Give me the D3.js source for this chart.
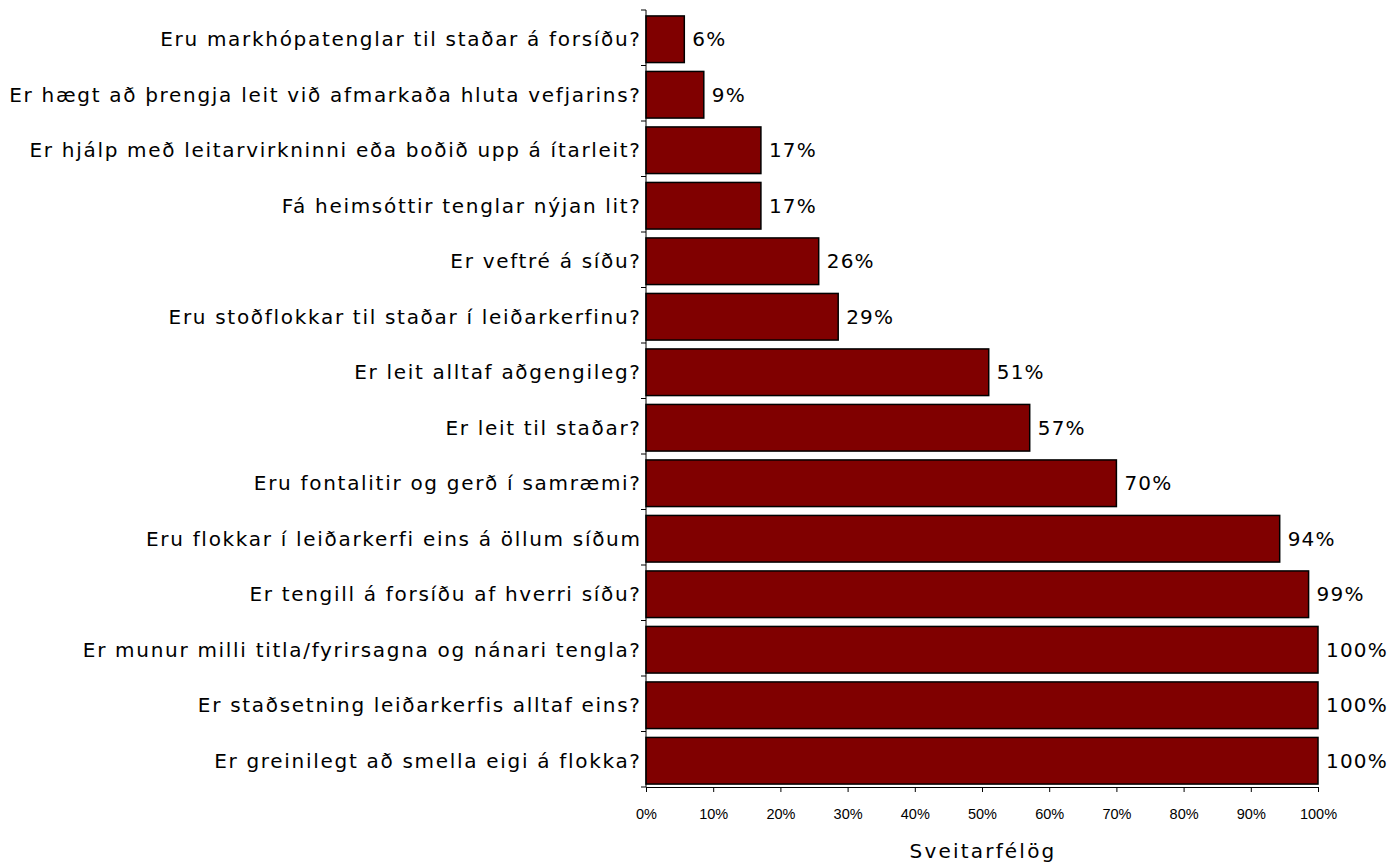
<!DOCTYPE html>
<html>
<head>
<meta charset="utf-8">
<script src="https://cdn.jsdelivr.net/npm/d3@7"></script>
<style>
  html, body { margin: 0; padding: 0; background: #fff; }
  svg { display: block; }
</style>
</head>
<body>
<svg id="chart" width="1393" height="865"></svg>
<script>
const categories = [
  "Eru markhópatenglar til staðar á forsíðu?",
  "Er hægt að þrengja leit við afmarkaða hluta vefjarins?",
  "Er hjálp með leitarvirkninni eða boðið upp á ítarleit?",
  "Fá heimsóttir tenglar nýjan lit?",
  "Er veftré á síðu?",
  "Eru stoðflokkar til staðar í leiðarkerfinu?",
  "Er leit alltaf aðgengileg?",
  "Er leit til staðar?",
  "Eru fontalitir og gerð í samræmi?",
  "Eru flokkar í leiðarkerfi eins á öllum síðum",
  "Er tengill á forsíðu af hverri síðu?",
  "Er munur milli titla/fyrirsagna og nánari tengla?",
  "Er staðsetning leiðarkerfis alltaf eins?",
  "Er greinilegt að smella eigi á flokka?"
];
const values = [5.7, 8.6, 17.1, 17.1, 25.7, 28.6, 51.0, 57.1, 70.0, 94.3, 98.6, 100, 100, 100];
const xTicks = [0, 10, 20, 30, 40, 50, 60, 70, 80, 90, 100];
const xTitle = "Sveitarfélög";

const svg = d3.select("#chart");
const x = d3.scaleLinear().domain([0, 100]).range([646, 1318]);
const y = d3.scaleBand().domain(categories).range([10, 787]).paddingInner(0.16).paddingOuter(0.08);

const font = "'DejaVu Sans', Verdana, sans-serif";
const ls = 1.7;

// bars
svg.append("g").selectAll("rect").data(values).join("rect")
  .attr("x", x(0))
  .attr("y", (d, i) => y(categories[i]) + 1.5)
  .attr("width", d => x(d) - x(0))
  .attr("height", y.bandwidth())
  .attr("fill", "#800000")
  .attr("stroke", "#000")
  .attr("stroke-width", 1.5);

// value labels
svg.append("g").selectAll("text").data(values).join("text")
  .attr("x", d => x(d) + 8)
  .attr("y", (d, i) => y(categories[i]) + 1.5 + y.bandwidth() / 2)
  .attr("dy", "0.36em")
  .attr("font-family", font)
  .attr("font-size", 20)
  .attr("letter-spacing", "1.2px")
  .attr("fill", "#000")
  .text(d => Math.round(d) + "%");

// y axis
const yAxisG = svg.append("g").attr("transform", `translate(${x(0)},0)`);
yAxisG.append("line").attr("x1", 0).attr("x2", 0).attr("y1", 10).attr("y2", 787)
  .attr("stroke", "#000").attr("stroke-width", 1);
const bandEdges = d3.range(categories.length + 1).map(i => 10 + i * (777 / categories.length));
yAxisG.selectAll("line.tk").data(bandEdges).join("line").attr("class", "tk")
  .attr("x1", -5).attr("x2", 0).attr("y1", d => d).attr("y2", d => d)
  .attr("stroke", "#000");
svg.append("g").selectAll("text").data(categories).join("text")
  .attr("x", x(0) - 6 + ls)
  .attr("y", d => y(d) + 1.5 + y.bandwidth() / 2)
  .attr("dy", "0.36em")
  .attr("text-anchor", "end")
  .attr("font-family", font)
  .attr("font-size", 20)
  .attr("letter-spacing", ls + "px")
  .attr("fill", "#000")
  .text(d => d);

// x axis
const xAxis = d3.axisBottom(x).tickValues(xTicks).tickFormat(d => d + "%").tickSize(5).tickSizeOuter(0);
const xg = svg.append("g").attr("transform", "translate(0,787)").call(xAxis);
xg.select(".domain").attr("stroke", "#000").attr("stroke-width", 1);
xg.selectAll(".tick line").attr("stroke", "#000");
xg.selectAll(".tick text")
  .attr("font-family", "'Liberation Sans', Arial, sans-serif")
  .attr("font-size", 14.5)
  .attr("fill", "#000")
  .attr("y", 32)
  .attr("dy", "0");

svg.append("text")
  .attr("x", (x(0) + x(100)) / 2 + 1)
  .attr("y", 858)
  .attr("text-anchor", "middle")
  .attr("font-family", font)
  .attr("font-size", 20)
  .attr("letter-spacing", "2.2px")
  .attr("fill", "#000")
  .text(xTitle);
</script>
</body>
</html>
